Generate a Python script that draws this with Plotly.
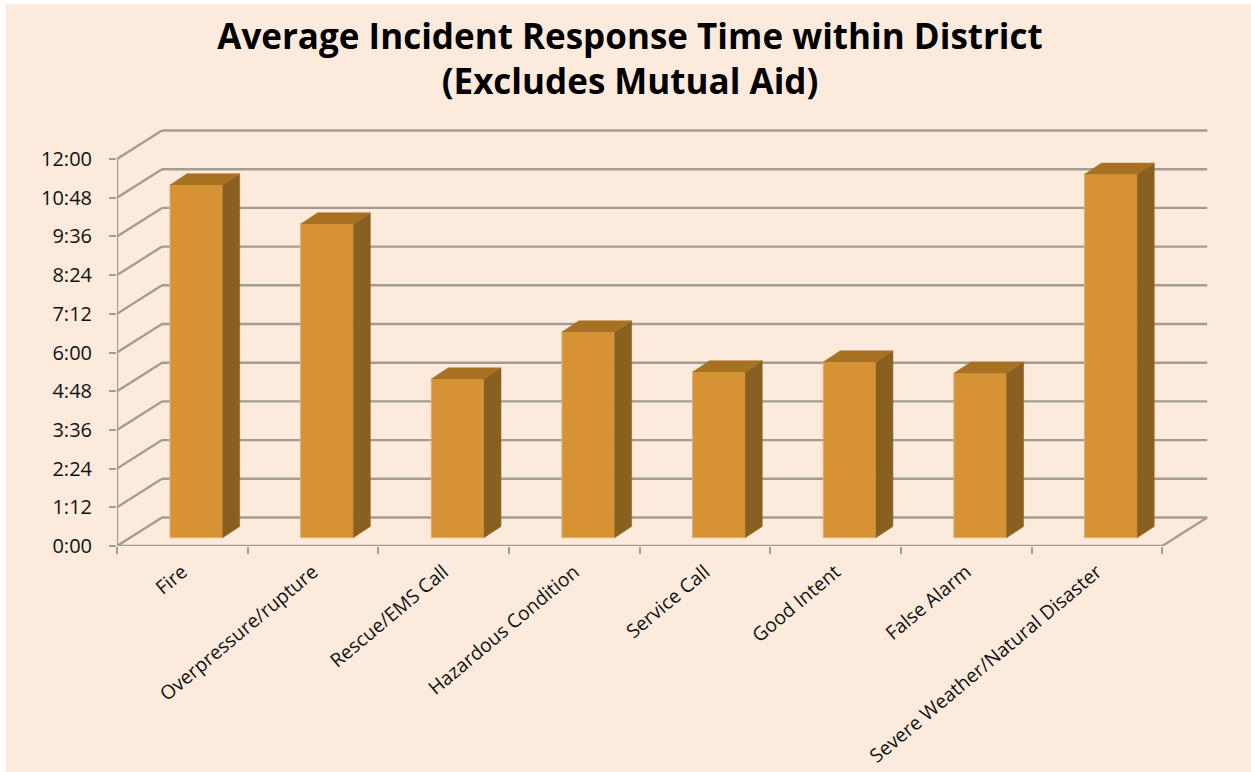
import plotly.graph_objects as go

# ---- data ----
categories = ["Fire", "Overpressure/rupture", "Rescue/EMS Call", "Hazardous Condition",
              "Service Call", "Good Intent", "False Alarm", "Severe Weather/Natural Disaster"]
minutes = [10.94, 9.73, 4.92, 6.38, 5.14, 5.45, 5.10, 11.27]
y_ticks = [0, 1.2, 2.4, 3.6, 4.8, 6.0, 7.2, 8.4, 9.6, 10.8, 12.0]
y_labels = ["0:00", "1:12", "2:24", "3:36", "4:48", "6:00", "7:12", "8:24", "9:36", "10:48", "12:00"]
title_text = "Average Incident Response Time within District<br>(Excludes Mutual Aid)"

# ---- pixel layout of the plot area ----
W, H = 1251, 772
LEFT, BOTTOM = 117, 546
PX_CAT = 130.65
PX_MIN = 32.25
PLOT_RIGHT, PLOT_TOP = 1214, 124

x_lo, x_hi = -0.5, -0.5 + (PLOT_RIGHT - LEFT) / PX_CAT
y_lo, y_hi = 0, (BOTTOM - PLOT_TOP) / PX_MIN

# 3D look, expressed in axis units
wall_dx, wall_dy = 45 / PX_CAT, 28.5 / PX_MIN
bar_w = 52.7 / PX_CAT
bar_shift = 14 / PX_CAT
bar_base = 8.3 / PX_MIN
bar_dx, bar_dy = 17 / PX_CAT, 11.2 / PX_MIN

GRID = "#A39C93"
BG = "#FCEBDD"
n = len(categories)
x_end = n - 0.5

fig = go.Figure()

# white sliver at top and left of the picture
shapes = [dict(type="rect", xref="paper", yref="paper", layer="below", line_width=0,
               fillcolor=BG,
               x0=(6 - LEFT) / (PLOT_RIGHT - LEFT), x1=(W - LEFT) / (PLOT_RIGHT - LEFT),
               y0=(BOTTOM - H) / (BOTTOM - PLOT_TOP), y1=(BOTTOM - 4) / (BOTTOM - PLOT_TOP))]

# walls: diagonal from the y axis and then along the back wall
for v in y_ticks:
    xs = [-0.5, -0.5 + wall_dx, x_end + wall_dx]
    ys = [v, v + wall_dy, v + wall_dy]
    if v == 0:
        xs, ys = xs[:2], ys[:2]
    for i in range(len(xs) - 1):
        shapes.append(dict(type="line", xref="x", yref="y", layer="below",
                           x0=xs[i], y0=ys[i], x1=xs[i + 1], y1=ys[i + 1],
                           line=dict(color=GRID, width=2.4)))
# back edge of the floor
shapes.append(dict(type="line", xref="x", yref="y", layer="below",
                   x0=-0.5 + wall_dx, y0=wall_dy, x1=x_end + wall_dx, y1=wall_dy,
                   line=dict(color=GRID, width=2.4)))

centers = [i + bar_shift for i in range(n)]

fig.add_trace(go.Bar(x=centers, y=minutes, base=bar_base, width=bar_w,
                     marker=dict(color="#D79234", line=dict(color="#E2B06E", width=1)),
                     showlegend=False, hoverinfo="skip"))

# side and top faces of each bar
for c, v in zip(centers, minutes):
    xr = c + bar_w / 2
    xl = c - bar_w / 2
    top = bar_base + v
    fig.add_trace(go.Scatter(
        x=[xr, xr + bar_dx, xr + bar_dx, xr, xr],
        y=[bar_base, bar_base + bar_dy, top + bar_dy, top, bar_base],
        fill="toself", fillcolor="#89601F", mode="lines",
        line=dict(color="#89601F", width=0.5), showlegend=False, hoverinfo="skip"))
    fig.add_trace(go.Scatter(
        x=[xl, xl + bar_dx, xr + bar_dx, xr, xl],
        y=[top, top + bar_dy, top + bar_dy, top, top],
        fill="toself", fillcolor="#A87122", mode="lines",
        line=dict(color="#A87122", width=0.5), showlegend=False, hoverinfo="skip"))

# front floor edge, with the diagonal at its right end
fig.add_trace(go.Scatter(x=[-0.5, x_end, x_end + wall_dx], y=[0, 0, wall_dy], mode="lines",
                         line=dict(color=GRID, width=2.4), cliponaxis=False,
                         showlegend=False, hoverinfo="skip"))

fig.update_layout(
    width=W, height=H, autosize=False,
    margin=dict(l=LEFT, r=W - PLOT_RIGHT, t=PLOT_TOP, b=H - BOTTOM, pad=0),
    paper_bgcolor="white", plot_bgcolor="rgba(0,0,0,0)",
    shapes=shapes, showlegend=False,
    font=dict(family="Open Sans, sans-serif", color="#111111"),
    title=dict(text=title_text, x=630 / W, xanchor="center", y=1 - 48.5 / H, yanchor="middle",
               font=dict(family="Open Sans, sans-serif", size=35, color="black", weight="bold")),
    xaxis=dict(range=[x_lo, x_hi], tickmode="array", tickvals=list(range(n)), ticktext=categories,
               tickangle=-40, ticks="", showgrid=False, zeroline=False, showline=False,
               automargin=False,
               tickfont=dict(size=19.3), ticklabelstandoff=10,
               minor=dict(tickmode="linear", tick0=-0.5, dtick=1, ticks="outside", ticklen=7,
                          tickwidth=2, tickcolor=GRID, showgrid=False)),
    yaxis=dict(range=[y_lo, y_hi], tickmode="array", tickvals=y_ticks, ticktext=y_labels,
               ticks="outside", ticklen=7, tickwidth=2, tickcolor=GRID,
               showgrid=False, zeroline=False, showline=False, automargin=False,
               tickfont=dict(size=20), ticklabelstandoff=13),
)
# y axis wall line, stopping at 12:00
fig.add_trace(go.Scatter(x=[-0.5, -0.5], y=[0, y_ticks[-1]], mode="lines",
                         line=dict(color=GRID, width=2.4), cliponaxis=False,
                         showlegend=False, hoverinfo="skip"))

fig.write_html("out.html", config=dict(displayModeBar=False),
               post_script="document.body.style.margin='0';document.body.style.overflow='hidden';")
